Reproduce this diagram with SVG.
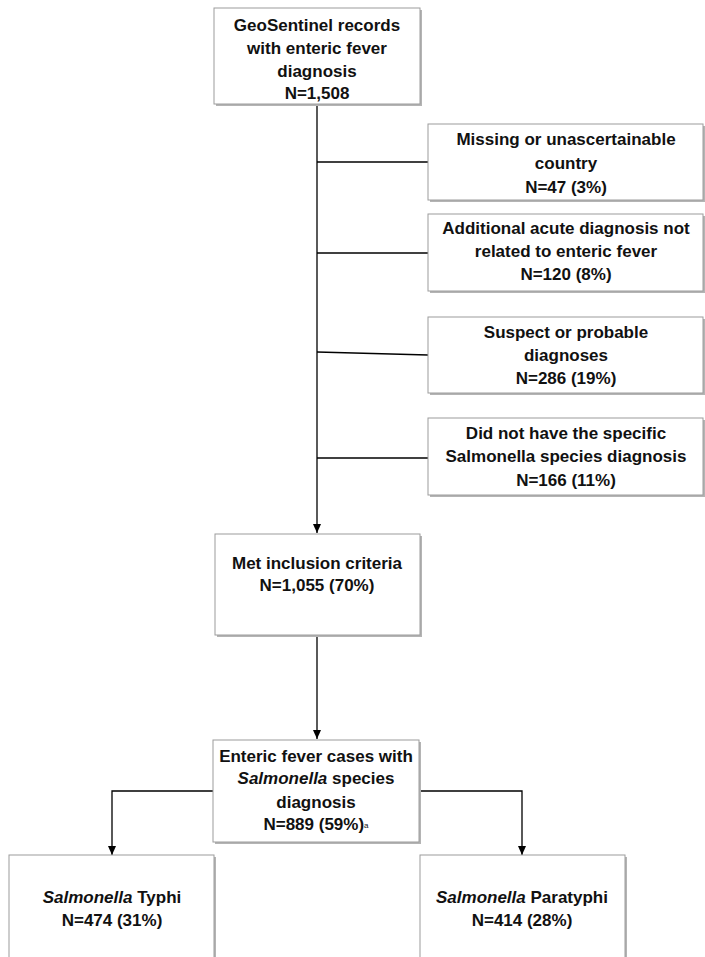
<svg xmlns="http://www.w3.org/2000/svg" width="705" height="957" viewBox="0 0 705 957">
<defs>
<marker id="arr" markerWidth="10" markerHeight="10" refX="9" refY="5" orient="auto" markerUnits="userSpaceOnUse">
<path d="M0,1 L9,5 L0,9 Z" fill="#000"/>
</marker>
<style>
.sh{fill:#b4b4b4}
.bx{fill:#fff;stroke:#9c9c9c;stroke-width:1}
.t{font-family:"Liberation Sans",Arial,sans-serif;font-size:17px;font-weight:bold;fill:#111;text-anchor:middle}
.c{fill:none;stroke:#000;stroke-width:1.3}
.i{font-style:italic}
</style>
</defs>
<rect width="705" height="957" fill="#fff"/>
<g id="connectors">
<line class="c" x1="317" y1="104" x2="317" y2="533" marker-end="url(#arr)"/>
<line class="c" x1="317" y1="162" x2="428" y2="162"/>
<line class="c" x1="317" y1="253" x2="428" y2="253"/>
<line class="c" x1="317" y1="352" x2="428" y2="355"/>
<line class="c" x1="317" y1="458" x2="428" y2="458"/>
<line class="c" x1="317" y1="635" x2="317" y2="739" marker-end="url(#arr)"/>
<polyline class="c" points="213,791 112,791 112,855" marker-end="url(#arr)"/>
<polyline class="c" points="419,791 522,791 522,855" marker-end="url(#arr)"/>
</g>
<g id="n_records">
<rect class="sh" x="216" y="10" width="206" height="96"/>
<rect class="bx" x="214" y="8" width="206" height="96"/>
<text class="t" x="317" y="31">GeoSentinel records</text>
<text class="t" x="317" y="54">with enteric fever</text>
<text class="t" x="317" y="77">diagnosis</text>
<text class="t" x="317" y="99">N=1,508</text>
</g>
<g id="n_missing">
<rect class="sh" x="430" y="126" width="275" height="76"/>
<rect class="bx" x="428" y="124" width="275" height="76"/>
<text class="t" x="566" y="145">Missing or unascertainable</text>
<text class="t" x="566" y="169">country</text>
<text class="t" x="566" y="193">N=47 (3%)</text>
</g>
<g id="n_additional">
<rect class="sh" x="430" y="216" width="275" height="77"/>
<rect class="bx" x="428" y="214" width="275" height="77"/>
<text class="t" x="566" y="234">Additional acute diagnosis not</text>
<text class="t" x="566" y="257">related to enteric fever</text>
<text class="t" x="566" y="280">N=120 (8%)</text>
</g>
<g id="n_suspect">
<rect class="sh" x="430" y="319" width="275" height="76"/>
<rect class="bx" x="428" y="317" width="275" height="76"/>
<text class="t" x="566" y="338">Suspect or probable</text>
<text class="t" x="566" y="361">diagnoses</text>
<text class="t" x="566" y="384">N=286 (19%)</text>
</g>
<g id="n_nospecies">
<rect class="sh" x="430" y="420" width="275" height="77"/>
<rect class="bx" x="428" y="418" width="275" height="77"/>
<text class="t" x="566" y="439">Did not have the specific</text>
<text class="t" x="566" y="462">Salmonella species diagnosis</text>
<text class="t" x="566" y="486">N=166 (11%)</text>
</g>
<g id="n_met">
<rect class="sh" x="217" y="536" width="205" height="101"/>
<rect class="bx" x="215" y="534" width="205" height="101"/>
<text class="t" x="317" y="569">Met inclusion criteria</text>
<text class="t" x="317" y="591">N=1,055 (70%)</text>
</g>
<g id="n_enteric">
<rect class="sh" x="215" y="742" width="206" height="102"/>
<rect class="bx" x="213" y="740" width="206" height="102"/>
<text class="t" x="316" y="762">Enteric fever cases with</text>
<text class="t" x="316" y="784"><tspan class="i">Salmonella</tspan> species</text>
<text class="t" x="316" y="808">diagnosis</text>
<text class="t" x="316" y="830">N=889 (59%)<tspan font-size="8" font-weight="normal" dy="-2">a</tspan></text>
</g>
<g id="n_typhi">
<rect class="sh" x="11" y="857" width="205" height="110"/>
<rect class="bx" x="9" y="855" width="205" height="110"/>
<text class="t" x="112" y="903"><tspan class="i">Salmonella</tspan> Typhi</text>
<text class="t" x="112" y="926">N=474 (31%)</text>
</g>
<g id="n_paratyphi">
<rect class="sh" x="422" y="857" width="205" height="110"/>
<rect class="bx" x="420" y="855" width="205" height="110"/>
<text class="t" x="522" y="903"><tspan class="i">Salmonella</tspan> Paratyphi</text>
<text class="t" x="522" y="926">N=414 (28%)</text>
</g>
</svg>
